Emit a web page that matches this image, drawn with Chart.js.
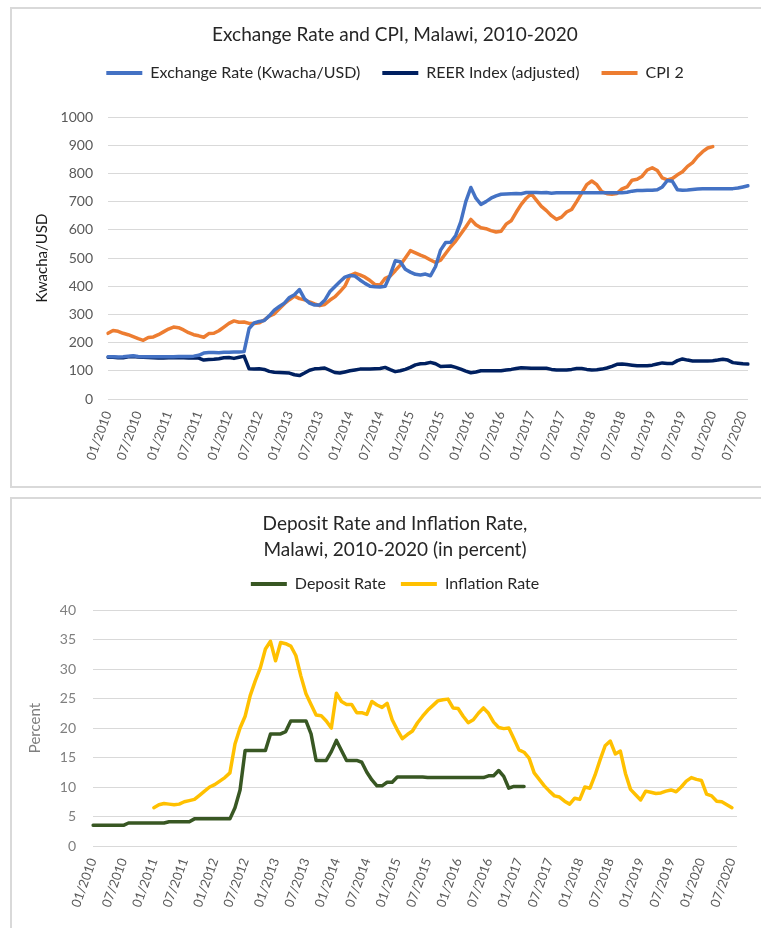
<!DOCTYPE html>
<html>
<head>
<meta charset="utf-8">
<script src="https://cdn.jsdelivr.net/npm/chart.js@4.4.1/dist/chart.umd.min.js"></script>
<style>
  body { margin: 0; background: #fff; width: 761px; height: 928px; overflow: hidden; position: relative; }
  .box { position: absolute; left: 10px; width: 800px; border: 2px solid #d9d9d9; background: #fff; }
  #box1 { top: 7px; height: 477px; }
  #box2 { top: 497px; height: 460px; }
  canvas { position: absolute; left: 0; top: 0; }
</style>
</head>
<body>
<div class="box" id="box1"><canvas id="chart1" width="749" height="476"></canvas></div>
<div class="box" id="box2"><canvas id="chart2" width="749" height="429"></canvas></div>
<script>
// month labels 01/2010 .. 08/2020
const years = [2010, 2011, 2012, 2013, 2014, 2015, 2016, 2017, 2018, 2019, 2020];
const months = ['01', '02', '03', '04', '05', '06', '07', '08', '09', '10', '11', '12'];
let monthLabels = [];
years.forEach(y => months.forEach(m => monthLabels.push(m + '/' + y)));
monthLabels = monthLabels.slice(0, 128);

// top chart series
const exchangeRate = [
  150, 150, 149, 150, 152, 153, 151, 150, 150, 150,
  150, 150, 150, 150, 151, 151, 151, 152, 155, 163,
  165, 165, 164, 166, 166, 167, 167, 168, 250, 270,
  275, 278, 295, 315, 328, 340, 360, 370, 388, 355,
  340, 333, 333, 350, 380, 398, 416, 432, 438, 436,
  422, 410, 400, 398, 397, 400, 440, 490, 487, 460,
  450, 442, 440, 443, 437, 470, 528, 555, 556, 580,
  628, 700, 750, 712, 690, 700, 712, 720, 726, 727,
  728, 729, 728, 732, 732, 732, 731, 732, 730, 731,
  731, 731, 731, 731, 731, 731, 731, 731, 731, 731,
  731, 731, 731, 733, 737, 739, 739, 740, 740, 742,
  752, 775, 772, 742, 740, 741, 743, 745, 746, 746,
  746, 746, 746, 746, 746, 748, 752, 756
];
const reerIndex = [
  148, 148, 146, 146, 150, 151, 149, 148, 147, 146,
  145, 145, 146, 146, 146, 146, 145, 146, 145, 138,
  140, 141, 143, 146, 147, 144, 148, 152, 107, 106,
  107, 105, 98, 95, 94, 93, 92, 86, 83, 92,
  102, 107, 108, 110, 102, 94, 92, 96, 100, 103,
  106, 106, 106, 107, 108, 112, 104, 97, 100, 105,
  112, 121, 125, 126, 130, 125, 115, 116, 117, 112,
  106, 99, 93, 96, 100, 100, 100, 100, 100, 103,
  105, 108, 111, 110, 109, 109, 109, 109, 105, 103,
  103, 103, 105, 108, 108, 105, 103, 104, 106, 110,
  116, 123, 124, 122, 120, 118, 118, 118, 120, 124,
  128, 126, 126, 136, 142, 138, 135, 135, 135, 135,
  136, 138, 141, 138, 129, 127, 125, 124
];
const cpi2 = [
  233, 243, 240, 233, 228, 221, 214, 208, 218, 220,
  228, 238, 248, 255, 253, 245, 235, 228, 224, 219,
  232, 233, 242, 255, 268, 277, 272, 273, 268, 268,
  270, 280, 294, 302, 320, 338, 352, 365, 356, 352,
  344, 337, 331, 335, 350, 362, 380, 400, 438, 446,
  440, 432, 420, 406, 404, 428, 436, 455, 475, 500,
  526, 518, 510, 503, 493, 484, 492, 516, 540, 560,
  585, 610, 637, 618, 607, 604, 597, 592, 595, 620,
  632, 662, 690, 712, 728, 705, 683, 668, 650, 637,
  645, 663, 672, 700, 730, 760, 773, 760, 735, 728,
  726, 729, 745, 752, 776, 779, 790, 812, 820, 810,
  784, 777, 782, 795, 806, 825, 838, 860, 877, 890,
  895, null, null, null, null, null, null, null
];

// bottom chart series
const depositRate = [
  3.5, 3.5, 3.5, 3.5, 3.5, 3.5, 3.5, 3.9, 3.9, 3.9,
  3.9, 3.9, 3.9, 3.9, 3.9, 4.1, 4.1, 4.1, 4.1, 4.1,
  4.6, 4.6, 4.6, 4.6, 4.6, 4.6, 4.6, 4.6, 6.5, 9.5,
  16.2, 16.2, 16.2, 16.2, 16.2, 19.0, 19.0, 19.0, 19.4, 21.2,
  21.2, 21.2, 21.2, 19.0, 14.5, 14.5, 14.5, 16.0, 17.9, 16.2,
  14.5, 14.5, 14.5, 14.2, 12.5, 11.2, 10.2, 10.2, 10.8, 10.8,
  11.7, 11.7, 11.7, 11.7, 11.7, 11.7, 11.6, 11.6, 11.6, 11.6,
  11.6, 11.6, 11.6, 11.6, 11.6, 11.6, 11.6, 11.6, 11.9, 11.9,
  12.8, 11.8, 9.8, 10.1, 10.1, 10.1
];
const inflationRate = [
  null, null, null, null, null, null, null, null, null, null,
  null, null, 6.5, 7.0, 7.2, 7.1, 7.0, 7.1, 7.5, 7.7,
  7.9, 8.6, 9.3, 10.0, 10.4, 11.0, 11.6, 12.4, 17.3, 20.0,
  22.0, 25.5, 28.0, 30.2, 33.4, 34.7, 31.4, 34.5, 34.3, 33.9,
  32.3, 28.8, 25.8, 24.0, 22.2, 22.1, 21.2, 20.0, 25.9, 24.5,
  24.0, 24.0, 22.6, 22.6, 22.3, 24.5, 23.9, 23.5, 24.2, 21.4,
  19.7, 18.2, 18.9, 19.5, 20.9, 22.0, 23.0, 23.8, 24.6, 24.8,
  24.9, 23.4, 23.3, 22.0, 20.9, 21.4, 22.5, 23.4, 22.5, 21.0,
  20.1, 19.9, 20.0, 18.2, 16.3, 15.9, 14.9, 12.4, 11.3, 10.2,
  9.3, 8.5, 8.3, 7.6, 7.1, 8.1, 7.9, 10.0, 9.8, 12.0,
  14.6, 17.0, 17.8, 15.6, 16.1, 12.3, 9.6, 8.7, 7.8, 9.3,
  9.1, 8.9, 9.0, 9.3, 9.5, 9.2, 10.0, 11.0, 11.6, 11.3,
  11.1, 8.8, 8.5, 7.6, 7.5, 7.0, 6.5, null
];

Chart.defaults.font.family = 'Lato';
Chart.defaults.animation = false;

function lineSet(label, data, color) {
  return {
    label: label,
    data: data,
    borderColor: color,
    backgroundColor: color,
    borderWidth: 3.5,
    pointRadius: 0,
    borderJoinStyle: 'round',
    borderCapStyle: 'round',
    spanGaps: false
  };
}

// legend swatch as flat line, no stroke around it
function flatLabels(chart) {
  const items = Chart.defaults.plugins.legend.labels.generateLabels(chart);
  items.forEach(it => { it.lineWidth = 0; it.strokeStyle = 'rgba(0,0,0,0)'; });
  return items;
}

function xTicks() {
  return {
    autoSkip: false,
    maxRotation: 70,
    minRotation: 70,
    padding: 2,
    color: '#595959',
    font: { size: 13 },
    callback: function (value, index) {
      return index % 6 === 0 ? this.getLabelForValue(value) : null;
    }
  };
}

// top chart: exchange rate and CPI
new Chart(document.getElementById('chart1'), {
  type: 'line',
  data: {
    labels: monthLabels,
    datasets: [
      lineSet('Exchange Rate (Kwacha/USD)', exchangeRate, '#4472C4'),
      lineSet('REER Index (adjusted)', reerIndex, '#002060'),
      lineSet('CPI 2', cpi2, '#ED7D31')
    ]
  },
  options: {
    responsive: false,
    layout: { padding: { left: 30, right: 13, top: 0, bottom: 0 } },
    plugins: {
      tooltip: { enabled: false },
      title: {
        display: true,
        text: 'Exchange Rate and CPI, Malawi, 2010-2020',
        color: '#262626',
        font: { size: 19, weight: 'normal', lineHeight: 1.2 },
        padding: { top: 14.6, bottom: -3.4 }
      },
      subtitle: {
        display: true,
        text: '',
        weight: 500,
        font: { size: 1, lineHeight: 1 },
        padding: { top: 0, bottom: 25 }
      },
      legend: {
        labels: {
          boxWidth: 36,
          boxHeight: 4,
          padding: 22,
          color: '#262626',
          font: { size: 16 },
          generateLabels: flatLabels
        }
      }
    },
    scales: {
      x: {
        grid: { display: false },
        border: { display: false },
        ticks: xTicks(),
        afterFit: s => { s.height = 86; }
      },
      y: {
        min: 0,
        max: 1000,
        ticks: { stepSize: 100, padding: 15, color: '#595959', font: { size: 14 }, callback: v => String(v) },
        grid: { color: '#d9d9d9', drawTicks: false, lineWidth: 1 },
        border: { display: false },
        title: { display: true, text: 'Kwacha/USD', color: '#1a1a1a', font: { size: 15 }, padding: { top: -9 } },
        afterFit: s => { s.width = 66; }
      }
    }
  }
});

// bottom chart: deposit and inflation
new Chart(document.getElementById('chart2'), {
  type: 'line',
  data: {
    labels: monthLabels,
    datasets: [
      lineSet('Deposit Rate', depositRate, '#385723'),
      lineSet('Inflation Rate', inflationRate, '#FFC000')
    ]
  },
  options: {
    responsive: false,
    layout: { padding: { left: 41, right: 24, top: 0, bottom: 0 } },
    plugins: {
      tooltip: { enabled: false },
      title: {
        display: true,
        text: ['Deposit Rate and Inflation Rate,', 'Malawi, 2010-2020 (in percent)'],
        color: '#262626',
        font: { size: 19, weight: 'normal', lineHeight: 1.37 },
        padding: { top: 12, bottom: -2 }
      },
      subtitle: {
        display: true,
        text: '',
        weight: 500,
        font: { size: 1, lineHeight: 1 },
        padding: { top: 0, bottom: 7 }
      },
      legend: {
        labels: {
          boxWidth: 36,
          boxHeight: 4,
          padding: 15,
          color: '#262626',
          font: { size: 16 },
          generateLabels: flatLabels
        }
      }
    },
    scales: {
      x: {
        grid: { display: false },
        border: { display: false },
        ticks: xTicks(),
        afterFit: s => { s.height = 82; }
      },
      y: {
        min: 0,
        max: 40,
        ticks: { stepSize: 5, padding: 17, color: '#7f7f7f', font: { size: 14 } },
        grid: { color: '#d9d9d9', drawTicks: false, lineWidth: 1 },
        border: { display: false },
        title: { display: true, text: 'Percent', color: '#7f7f7f', font: { size: 15 }, padding: { top: -27 } },
        afterFit: s => { s.width = 40; }
      }
    }
  }
});
</script>
</body>
</html>
